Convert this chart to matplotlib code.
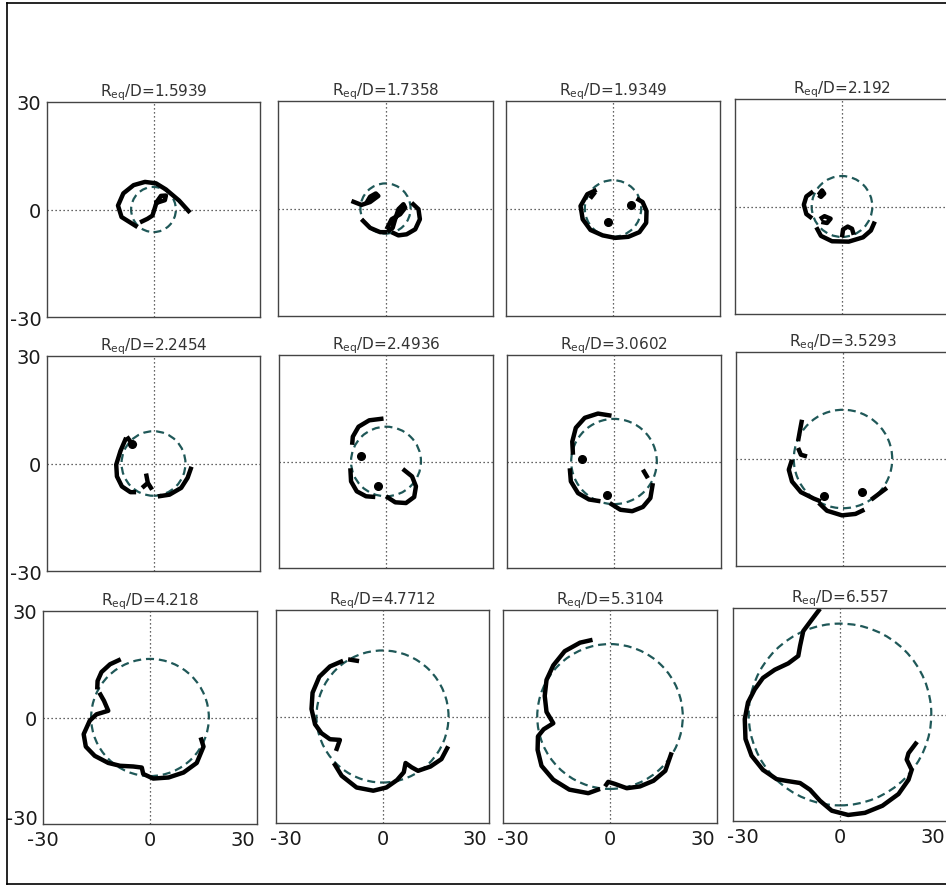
import matplotlib.pyplot as plt
import matplotlib.lines as mlines
from matplotlib.patches import Circle
from matplotlib.transforms import ScaledTranslation

plt.rcParams["font.family"] = ["DejaVu Sans"]
plt.rcParams["axes.unicode_minus"] = False

ratios = ["1.5939", "1.7358", "1.9349", "2.192",
          "2.2454", "2.4936", "3.0602", "3.5293",
          "4.218", "4.7712", "5.3104", "6.557"]
radii = [6.3, 7.0, 7.9, 8.5, 9.0, 9.8, 12.0, 13.8, 16.5, 18.6, 20.4, 25.6]
ticks = [-30, 0, 30]
tick_labels = ["-30", "0", "30"]

# black traced outlines (x, y) per panel, one list per stroke
p1 = [[(-4.5, -4.9), (-9.0, -2.1), (-10.0, 1.1), (-8.5, 4.5), (-5.6, 6.8), (-2.4, 7.7),
       (0.7, 7.3), (3.5, 5.6), (7.2, 2.5), (10.3, -0.9)],
      [(-3.8, -3.6), (-1.7, -2.6), (-0.3, -1.7), (0.4, 0.5), (0.9, 2.1), (2.1, 3.8),
       (3.5, 3.9), (3.2, 2.6), (1.6, 2.1), (0.4, 1.7)]]
p2 = [[(-9.5, 2.1), (-6.7, 1.0), (-4.3, 1.8), (-2.0, 3.5), (-2.7, 4.2), (-4.3, 3.3), (-5.3, 1.6)],
      [(7.3, 1.6), (9.2, -0.2), (9.6, -3.0), (8.3, -5.8), (5.9, -7.2), (3.6, -7.5), (1.7, -6.6)],
      [(0.3, -5.8), (1.7, -3.0), (4.1, -1.6), (5.5, 0.2), (5.0, 1.2), (3.6, -0.2), (2.7, -3.0),
       (2.0, -5.4), (0.5, -6.6)],
      [(-6.7, -3.0), (-4.3, -5.4), (-1.5, -6.6), (0.5, -6.6)]]
p3 = [[(-4.6, 5.2), (-7.2, 4.0), (-9.1, 0.7), (-8.5, -3.0), (-6.3, -6.0), (-2.9, -7.5), (0.6, -8.2),
       (4.3, -7.9), (7.4, -6.6), (9.3, -4.0), (9.4, -0.7), (8.3, 1.8), (6.6, 2.8)],
      [(-6.4, 2.8), (-5.0, 4.6)]]
p4 = [[(-8.1, 4.2), (-10.0, 2.8), (-10.7, 0.5), (-10.0, -2.1), (-8.4, -3.3)],
      [(-6.6, 3.2), (-5.6, 4.5), (-5.0, 3.6), (-5.9, 2.7), (-6.6, 3.2)],
      [(-6.2, -3.5), (-4.9, -2.7), (-3.2, -3.4), (-4.2, -4.6), (-5.8, -4.3)],
      [(-7.2, -5.8), (-5.9, -8.2), (-2.8, -9.7), (1.9, -9.8), (5.9, -8.6), (8.1, -6.7), (9.2, -4.2)],
      [(0.0, -8.6), (0.3, -6.4), (1.6, -5.6), (2.8, -6.2), (3.3, -7.9)]]
p5 = [[(-7.7, 7.2), (-9.3, 3.5), (-10.5, -0.3), (-10.3, -3.6), (-8.9, -6.4), (-6.5, -8.0), (-4.9, -8.0)],
      [(-7.5, 7.5), (-6.3, 5.8), (-4.9, 4.9)],
      [(1.2, -9.2), (4.5, -8.7), (7.8, -6.8), (9.6, -4.0), (10.7, -0.9)],
      [(-2.1, -2.8), (-1.6, -5.4), (-3.2, -6.8)],
      [(-1.6, -5.4), (-0.4, -7.3)]]
p6 = [[(-0.7, 12.1), (-4.7, 11.6), (-7.7, 9.8), (-9.3, 7.0), (-9.5, 4.7)],
      [(-10.0, -1.9), (-9.8, -5.6), (-8.2, -8.4), (-5.6, -9.8), (-3.0, -10.0)],
      [(0.0, -9.8), (2.6, -11.5), (5.6, -11.7), (7.9, -10.0), (8.4, -7.0), (7.3, -4.2), (4.7, -2.1)]]
p7 = [[(-0.7, 12.9), (-4.5, 13.5), (-8.2, 12.3), (-10.7, 9.5), (-11.7, 5.6), (-11.5, 1.9)],
      [(-12.4, -1.9), (-12.1, -5.6), (-10.1, -8.9), (-7.0, -10.7), (-3.8, -11.2)],
      [(-1.2, -11.7), (1.8, -13.6), (5.1, -14.0), (8.1, -12.8), (10.2, -10.3), (10.9, -6.1)],
      [(8.1, -2.3), (9.5, -4.7)]]
p8 = [[(-11.5, 11.0), (-12.1, 7.8), (-12.6, 5.0)],
      [(-12.6, 3.1), (-11.8, 1.2), (-10.1, 0.7)],
      [(-14.3, -0.2), (-15.2, -3.0), (-14.3, -6.3), (-11.8, -9.3), (-8.2, -11.1), (-6.2, -11.9)],
      [(-6.8, -12.3), (-4.5, -14.5), (-0.3, -15.8), (3.5, -15.4), (6.0, -14.2)],
      [(7.9, -11.4), (12.3, -8.1)]]
p9 = [[(-8.2, 16.4), (-11.2, 15.0), (-13.6, 12.8), (-14.7, 10.3), (-14.8, 7.9)],
      [(-14.2, 7.0), (-12.9, 4.7), (-11.7, 1.9), (-15.0, 0.9), (-16.9, -0.9), (-18.6, -4.7),
       (-18.0, -8.2), (-15.5, -10.8), (-11.7, -12.8), (-8.4, -13.6), (-4.7, -13.8), (-2.3, -14.1),
       (-1.9, -15.9), (0.9, -17.2), (5.2, -16.9), (9.4, -15.5), (13.1, -12.8), (15.0, -8.2),
       (14.2, -5.6)]]
p10 = [[(-9.7, 16.1), (-6.6, 15.6)],
       [(-11.1, 15.7), (-14.8, 14.1), (-17.8, 11.2), (-19.7, 6.7), (-20.0, 2.1), (-19.0, -2.2),
        (-17.2, -4.7), (-14.8, -6.4), (-12.0, -6.6), (-13.1, -9.7)],
       [(-13.7, -13.1), (-11.5, -16.7), (-7.3, -20.0), (-2.6, -20.9), (1.1, -20.0), (4.1, -17.9),
        (6.0, -15.7), (6.5, -13.1), (8.2, -14.3), (10.0, -15.3), (13.5, -14.1), (16.6, -12.0),
        (18.5, -8.4)]]
p11 = [[(-4.9, 21.6), (-8.4, 20.8), (-12.7, 18.4), (-15.9, 14.4), (-17.8, 10.3), (-18.3, 5.8),
        (-17.8, 1.3), (-15.9, -1.9), (-18.6, -3.6), (-20.2, -5.6), (-20.3, -9.4), (-19.2, -13.9),
        (-15.9, -17.8), (-11.4, -20.6), (-6.1, -21.6), (-2.8, -20.4)],
       [(-1.4, -19.7), (-0.5, -18.4), (1.4, -19.0), (4.7, -20.2), (8.4, -19.7), (12.2, -18.1),
        (15.5, -15.3), (17.3, -10.1)]]
p12 = [[(-5.6, 29.8), (-8.0, 26.6), (-10.3, 23.5), (-11.2, 19.3), (-11.7, 16.5), (-14.5, 14.4),
        (-18.3, 12.6), (-21.6, 10.3), (-23.9, 7.1), (-25.8, 3.4), (-26.7, -1.3), (-26.5, -6.9),
        (-24.8, -11.6), (-21.6, -15.6), (-17.8, -18.2), (-15.0, -18.7), (-11.2, -19.3), (-8.4, -21.2),
        (-5.6, -24.3), (-2.3, -27.1), (2.3, -28.3), (7.0, -27.7), (11.9, -25.7), (16.4, -22.4),
        (19.2, -18.4), (20.1, -15.6), (18.7, -12.7), (19.2, -10.9), (21.6, -7.7)]]
panels = [p1, p2, p3, p4, p5, p6, p7, p8, p9, p10, p11, p12]

# small filled spots (x, y) per panel
spots = [[], [], [(-1.3, -3.8), (5.1, 1.0)], [], [(-6.0, 5.5)], [(-7.0, 1.6), (-2.2, -6.8)],
         [(-9.0, 0.8), (-2.1, -9.4)], [(-5.4, -10.5), (5.3, -9.3)], [], [], [], []]

# axes boxes in pixels: left, top, right, bottom
boxes = [(47, 103, 260, 318), (278, 102, 493, 317), (506, 102, 720, 317), (735, 100, 949, 315),
         (47, 357, 260, 572), (279, 356, 493, 569), (507, 356, 721, 569), (736, 353, 950, 567),
         (43, 612, 257, 825), (276, 611, 489, 824), (503, 611, 717, 824), (733, 609, 947, 822)]

W, H = 946, 887
fig = plt.figure(figsize=(W / 100, H / 100), dpi=100)

# outer frame
for xs, ys in [([7, 7], [4, 885]), ([7, 946], [4, 4]), ([7, 946], [885, 885])]:
    fig.add_artist(mlines.Line2D([x / W for x in xs], [1 - y / H for y in ys], color="black", lw=1.2))

for i, (l, t, r, b) in enumerate(boxes):
    ax = fig.add_axes([l / W, 1 - b / H, (r - l) / W, (b - t) / H])
    ax.set_xlim(-30, 30)
    ax.set_ylim(-30, 30)
    ax.set_xticks(ticks, labels=tick_labels if i >= 8 else [])
    ax.set_yticks(ticks, labels=tick_labels if i % 4 == 0 else [])
    ax.tick_params(length=0, labelsize=14, colors="#1a1a1a", pad=4)
    if i >= 8:
        xl = ax.get_xticklabels()
        xl[2].set_ha("right")
        xl[2].set_transform(xl[2].get_transform() + ScaledTranslation(-2 / 100, 0, fig.dpi_scale_trans))
        if i > 8:
            xl[0].set_ha("left")
            xl[0].set_transform(xl[0].get_transform() + ScaledTranslation(-6 / 100, 0, fig.dpi_scale_trans))
    if i == 8:
        yl = ax.get_yticklabels()
        yl[0].set_transform(yl[0].get_transform() + ScaledTranslation(0, 7 / 100, fig.dpi_scale_trans))
    for s in ax.spines.values():
        s.set_color("#444444")
        s.set_linewidth(1.0)
    ax.axvline(0, color="#333333", lw=0.9, ls=(0, (1, 2.2)))
    ax.axhline(0, color="#333333", lw=0.9, ls=(0, (1, 2.2)))

    for stroke in panels[i]:
        xs = [p[0] for p in stroke]
        ys = [p[1] for p in stroke]
        ax.plot(xs, ys, color="black", lw=3.2, solid_joinstyle="round", solid_capstyle="butt")
    for x, y in spots[i]:
        ax.plot([x], [y], "o", color="black", ms=5.5)

    ax.add_patch(Circle((0, 0), radii[i], fill=False, ec="#1f5858", lw=1.6, ls=(0, (3.6, 2.2))))
    ax.set_title(r"R$_{\mathrm{eq}}$/D=" + ratios[i], fontsize=11, color="#333333", pad=3)

fig.savefig("out.png", dpi=100)
